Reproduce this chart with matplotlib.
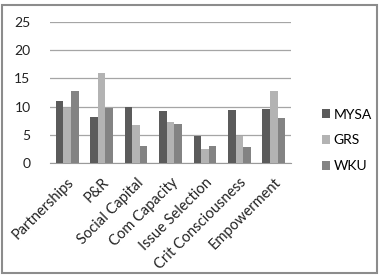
import matplotlib
matplotlib.use("Agg")
import matplotlib.pyplot as plt
import numpy as np
from matplotlib.patches import Rectangle

categories = ["Partnerships", "P&R", "Social Capital", "Com Capacity",
              "Issue Selection", "Crit Consciousness", "Empowerment"]
series_names = ["MYSA", "GRS", "WKU"]
mysa = [11.0, 8.1, 9.9, 9.2, 4.8, 9.4, 9.5]
grs = [9.8, 15.9, 6.7, 7.3, 2.5, 4.8, 12.8]
wku = [12.8, 9.8, 3.1, 7.0, 3.1, 2.8, 8.0]
colors = ["#5b5b5b", "#b3b3b3", "#838383"]

plt.rcParams['font.family'] = ['Lato', 'DejaVu Sans']

fig = plt.figure(figsize=(3.84, 2.75), dpi=100)
ax = fig.add_axes([50/384, 1-163/275, (291-50)/384, (163-22)/275])

x = np.arange(len(categories))
w = 0.22
for i, (vals, c, name) in enumerate(zip([mysa, grs, wku], colors, series_names)):
    ax.bar(x + (i-1)*w, vals, width=w, color=c, label=name, zorder=3)

ax.set_ylim(0, 25)
ax.set_yticks([0, 5, 10, 15, 20, 25])
ax.set_xlim(-0.5, len(categories)-0.5)
ax.yaxis.grid(True, color="#a5a5a5", linewidth=0.9, zorder=0)
for s in ["top", "right", "left"]:
    ax.spines[s].set_visible(False)
ax.spines["bottom"].set_color("#9a9a9a")
ax.tick_params(axis="y", length=0, labelsize=10, pad=14, colors="#222222")
ax.tick_params(axis="x", length=0, labelsize=10.5, pad=9, colors="#222222")
ax.set_xticks(x)
ax.set_xticklabels(categories, rotation=45, ha="right", rotation_mode="anchor")

leg = ax.legend(loc="center left", bbox_to_anchor=(1.10, 0.16), frameon=False,
                fontsize=10, handlelength=0.55, handleheight=0.55,
                handletextpad=0.3, labelspacing=1.0, borderpad=0)

fig.patches.append(Rectangle((2/384, 2/275), 375/384, 268/275, transform=fig.transFigure,
                             fill=False, edgecolor="#8c8c8c", linewidth=1.5))

fig.savefig("out.png", dpi=100)
